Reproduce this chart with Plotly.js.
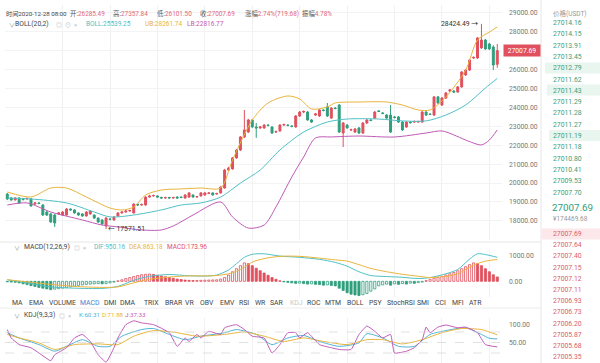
<!DOCTYPE html>
<html><head><meta charset="utf-8">
<script src="https://cdn.plot.ly/plotly-3.0.1.min.js"></script>
<style>html,body{margin:0;padding:0;background:#fff;}#chart{width:600px;height:363px;}</style>
</head><body><div id="chart"></div>
<script>
// ---------- DATA (4h candles, BTC/USDT) ----------
const openP = [19420,19210,19110,19210,19160,19160,19160,18890,18950,18840,
18470,18370,18310,18370,18310,18310,18630,18580,18420,18370,
18260,18370,18310,18150,18050,17730,18100,18050,18260,18420,
18470,18520,18420,18890,18840,18840,19260,19320,19320,19240,
19210,19240,19210,19260,19260,19210,19260,19370,19260,19320,
19370,19450,19480,19420,19480,19740,20690,20750,21330,21750,
22440,22700,23340,22970,22920,22920,23070,22970,22700,22760,
23070,23070,23020,22970,23550,23760,23760,23340,23600,23550,
23870,24030,23440,23970,24130,22650,23070,22810,22700,22920,
22650,23180,23340,23440,23820,23710,23600,23600,23500,23500,
23230,22970,23230,23230,23230,23230,23760,23650,23600,24560,
24130,24500,24870,24870,24820,25090,25720,25980,26620,26620,
27150,27570,27360,27200,26285.49];
const highP = [19480,19260,19250,19240,19200,19230,19200,19000,18990,18880,
18520,18400,18360,18470,18520,18680,18660,18610,18450,18400,
18520,18560,18340,18180,18080,18200,18140,18250,18460,18510,
18560,18590,18930,18920,18910,19300,19380,19390,19350,19280,
19270,19270,19270,19300,19290,19410,19520,19400,19320,19520,
19520,19510,19510,19490,19830,20750,20860,21380,21800,22490,
23870,23400,23380,23180,23020,23120,23110,23000,22780,23120,
23150,23110,23060,23600,23810,23840,23810,23390,23710,23920,
23900,24240,24020,24010,24180,23230,23120,22880,22910,22960,
23230,23390,23380,23810,23860,23760,23650,24130,23550,23550,
23280,23280,23280,23310,23300,23810,23810,23700,24610,24610,
24560,24820,24980,24930,25140,25930,26040,26570,26700,27730,
28424.49,27630,27420,27300,27357.84];
const lowP = [19100,19060,19080,18910,19080,19120,18750,18850,18880,18270,
18260,17900,17680,18320,18270,18280,18540,18380,18270,18220,
18230,18330,18110,17900,17780,17571.51,18030,18010,18220,18390,
18440,18490,18390,18800,18810,18810,19230,19290,19220,19180,
19170,19180,19180,19180,19200,19180,19230,19230,19230,19290,
19340,19420,19340,19390,19450,19710,20650,20710,21290,21700,
22390,22650,22920,22390,22860,22870,23000,22600,22650,22720,
23020,23000,22950,22930,23500,23700,23300,23180,23550,23500,
23800,23500,23400,23900,22650,21910,22870,22760,22650,22600,
22600,23130,23280,23400,23760,23650,23400,22650,23420,23180,
22760,22920,23150,23180,23190,23190,23550,23600,23550,24190,
24080,24450,24820,24770,24770,25040,25670,25930,26570,26570,
27100,27050,27040,25980,26101.50];
const closeP = [19160,19110,19210,18950,19130,19190,18790,18950,18920,18310,
18310,17940,17890,18420,18470,18630,18580,18420,18310,18260,
18470,18520,18150,17940,17840,18150,18080,18210,18420,18470,
18520,18550,18890,18840,18870,19260,19320,19340,19260,19210,
19240,19210,19240,19210,19240,19370,19480,19260,19290,19480,
19480,19480,19370,19450,19790,20690,20800,21330,21750,22440,
22810,23340,22970,22920,22970,23070,23050,22650,22730,23070,
23100,23050,23000,23550,23760,23790,23340,23230,23660,23870,
23840,23550,23970,23950,22700,23180,22920,22830,22860,22650,
23180,23340,23310,23760,23790,23680,23440,22700,23470,23230,
22810,23230,23200,23260,23260,23760,23600,23630,24560,24240,
24500,24770,24930,24820,25090,25880,25980,26510,26650,27680,
27570,27100,27100,26250,27007.69];

// BOLL(20,2) (candle number -> value)
const bollMidX = [1,7,16,23,27,33,40,45,50,55,60,65,70,76,82,87,95,101,107,112,117,122,125];
const bollMid  = [19210,19160,18950,18470,18210,18310,18580,18840,18950,19260,20000,20690,21750,22700,23230,23390,23390,23290,23290,23600,24130,25030,25539.25];
const bollUpX  = [1,7,12,16,21,27,30,33,36,40,45,50,55,58,63,67,72,75,78,82,84,90,97,101,105,108,112,117,120,123,125];
const bollUp   = [19530,19265,19740,19740,19265,18680,18577,18735,19370,19635,19690,19740,19740,21220,23340,24240,24610,24450,23920,24030,24240,24290,24290,24130,23870,23870,24560,25980,27570,27990,28261.74];
const bollLoX  = [1,6,12,20,25,29,35,40,43,48,55,58,62,66,69,73,76,79,83,90,99,107,111,114,117,121,123,125];
const bollLo   = [18840,18950,18470,18050,17780,17680,17520,17520,17730,18310,19000,18210,17620,17780,18740,20320,21380,22390,22440,22490,22440,22650,22760,22550,22280,22020,22280,22816.77];

// MACD(12,26,9)
const macdHist = [-20,-30,-40,-60,
-100,-130,-170,-200,-240,-270,-300,-330,
-310,-290,-270,-250,-220,-190,-160,-140,
-120,-110,-100,-90,-100,-90,-60,-30,
20,60,110,150,190,230,260,280,290,
270,240,210,180,150,120,90,70,50,40,
30,35,40,45,50,55,60,
90,150,250,380,500,620,730,
700,620,520,420,330,240,150,80,20,
-20,-40,-60,-80,-70,-90,-110,-100,-120,-130,-150,-140,-160,
-180,-270,-360,-450,-510,-540,-560,-530,-480,-390,-300,-180,
-140,-110,-150,-100,-120,-90,-110,-70,-80,-50,-30,
30,80,120,160,200,250,300,350,420,500,580,660,730,
700,620,500,380,260,173.96];
const difX = [1,6,12,18,25,29,33,37,42,47,51,54,57,59,61,63,66,70,75,80,84,87,90,93,97,101,105,108,112,115,118,120,122,125];
const dif  = [60,-60,-220,-270,-280,-200,40,200,270,220,210,250,450,700,950,1070,1090,1000,950,870,750,600,380,230,190,160,110,150,300,470,880,1090,1060,950.16];
const deaX = [1,6,12,18,25,29,33,37,42,47,51,54,57,59,61,63,66,70,75,80,84,87,90,93,97,101,105,108,112,115,118,120,122,125];
const dea  = [65,-20,-120,-200,-240,-220,-60,80,170,215,215,230,300,400,560,760,900,990,990,920,850,800,660,510,380,280,200,150,200,300,560,700,800,863.18];

// KDJ(9,3,3)
const kX = [1,4,9,13,16,20,24,27,30,35,38,42,46,50,56,59,64,68,72,76,80,85,90,92,96,100,104,108,112,117,121,123,125];
const kV = [78,63,44,25,39,58,39,39,68,87,90,73,58,68,78,87,73,44,63,70,53,39,49,75,63,39,39,73,84,92,73,62,60.31];
const dX = [1,4,9,13,18,24,29,33,38,44,49,56,61,66,71,76,81,87,92,96,101,106,111,116,121,123,125];
const dV = [73,63,49,30,44,46,44,68,84,78,68,73,80,68,53,63,53,44,58,58,46,58,78,90,87,80,71.88];
const jX = [1,2,4,7,9,12,13,16,18,20,22,24,26,28,29,31,33,35,38,42,44,46,47,49,50,52,55,56,59,61,63,66,68,70,72,74,75,77,80,83,85,88,90,92,94,96,98,99,102,104,106,107,108,110,112,115,117,120,122,125];
const jV = [87,63,44,35,20,-2,15,35,63,73,53,15,-6,35,63,101,112,106,101,78,39,63,53,73,63,82,73,92,101,87,68,63,20,44,78,78,63,78,44,35,30,30,73,97,82,63,73,20,25,35,58,94,78,94,100,92,94,78,44,37.33];

// Axis ticks
const priceTicks = [18000,19000,20000,21000,22000,23000,24000,25000,26000,27000,28000,29000];
const macdTicks = [0,1000];
const kdjTicks = [0,50,100];
const kdjLevels = [20,50,80];

// Header / legends
const headerTime = '时间2020-12-28 08:00';
const headerItems = [['开:','26285.49'],['高:','27357.84'],['低:','26101.50'],['收:','27007.69'],['涨幅','2.74%(719.68)'],['振幅','4.78%']];
const lastPrice = 27007.69;
const highMark = {k:121, v:28424.49};
const lowMark = {k:26, v:17571.51};
const bollLegend = ['BOLL(20,2)','BOLL:25539.25','UB:28261.74','LB:22816.77'];
const macdLegend = ['MACD(12,26,9)','DIF:950.16','DEA:863.18','MACD:173.96'];
const kdjLegend = ['KDJ(9,3,3)','K:60.31','D:71.88','J:37.33'];
const tabs = ['MA','EMA','VOLUME','MACD','DMI','DMA','TRIX','BRAR','VR','OBV','EMV','RSI','WR','SAR','KDJ','ROC','MTM','BOLL','PSY','StochRSI','SMI','CCI','MFI','ATR'];

// Order book
const bookHeader = '价格(USDT)';
const bookUpper = ['27014.16','27014.15','27013.91','27013.45','27012.79','27011.62','27011.43','27011.29','27011.28','27011.27','27011.19','27011.18','27010.80','27010.41','27009.53','27007.70'];
const bookLower = ['27007.69','27007.64','27007.40','27007.15','27007.12','27007.11','27006.93','27006.73','27006.20','27005.87','27005.68','27005.35'];
const bookLast = '27007.69';
const bookCny = '¥174469.68';

// ---------- STYLE / LAYOUT ----------
const W=600,H=363;
const px=x=>x/W, py=y=>1-y/H;
const FONT='Roboto, "Noto Sans CJK SC", "DejaVu Sans", sans-serif';
const RED='#e0505e', GREEN='#2f9e7c';
const C_MID='#4fc0c6', C_UP='#e9b43c', C_LO='#c05ab6';
const C_K='#4fb3d6', C_D='#e9b43c', C_J='#c05ab6';
const idx = openP.map((_,i)=>i+1);
const tabX = [10,27,47,78,102,118,142,163,183,198,218,237,253,268,288,305,323,345,367,385,415,433,450,467];
const headX = [68,111,155,198,243,300];

const traces = [
 {type:'candlestick', x:idx, open:openP, high:highP, low:lowP, close:closeP, xaxis:'x', yaxis:'y',
  increasing:{line:{color:RED,width:1}, fillcolor:RED}, decreasing:{line:{color:GREEN,width:1}, fillcolor:GREEN},
  whiskerwidth:0, hoverinfo:'skip'},
 {type:'scatter', mode:'lines', x:bollUpX, y:bollUp, line:{color:C_UP,width:1,shape:'spline',smoothing:0.8}, xaxis:'x', yaxis:'y'},
 {type:'scatter', mode:'lines', x:bollMidX, y:bollMid, line:{color:C_MID,width:1,shape:'spline',smoothing:0.8}, xaxis:'x', yaxis:'y'},
 {type:'scatter', mode:'lines', x:bollLoX, y:bollLo, line:{color:C_LO,width:1,shape:'spline',smoothing:0.8}, xaxis:'x', yaxis:'y'},
];
// MACD histogram: hollow when positive bar grows or negative bar shrinks
const hFill=[], hLine=[];
macdHist.forEach((v,i)=>{
  const prev = i>0 ? macdHist[i-1] : v;
  const col = v>=0 ? RED : GREEN;
  const hollow = v>prev;
  hLine.push(col); hFill.push(hollow ? 'rgba(255,255,255,1)' : col);
});
traces.push({type:'bar', x:idx, y:macdHist, width:0.55, marker:{color:hFill, line:{color:hLine,width:0.8}}, xaxis:'x2', yaxis:'y2'});
traces.push({type:'scatter', mode:'lines', x:difX, y:dif, line:{color:C_MID,width:1,shape:'spline',smoothing:0.8}, xaxis:'x2', yaxis:'y2'});
traces.push({type:'scatter', mode:'lines', x:deaX, y:dea, line:{color:C_UP,width:1,shape:'spline',smoothing:0.8}, xaxis:'x2', yaxis:'y2'});
traces.push({type:'scatter', mode:'lines', x:kX, y:kV, line:{color:C_K,width:1,shape:'spline',smoothing:0.6}, xaxis:'x3', yaxis:'y3'});
traces.push({type:'scatter', mode:'lines', x:dX, y:dV, line:{color:C_D,width:1,shape:'spline',smoothing:0.6}, xaxis:'x3', yaxis:'y3'});
traces.push({type:'scatter', mode:'lines', x:jX, y:jV, line:{color:C_J,width:1,shape:'spline',smoothing:0.4}, xaxis:'x3', yaxis:'y3'});

const xDom=[px(5),px(502)], xRange=[0.42,126.2];
const gridX=[15,27,39,51,63,75,87,99,111,123];
const xBase={domain:xDom, range:xRange, showticklabels:false, ticks:'', tickvals:gridX, showgrid:true, gridcolor:'#f1f1f1', gridwidth:1, zeroline:false, showline:false, rangeslider:{visible:false}, fixedrange:true};
const yBase={side:'right', showline:false, zeroline:false, ticks:'', tickformat:'.2f', tickfont:{family:FONT,size:6.8,color:'#777'}, ticklabelstandoff:6, fixedrange:true};

function txt(x,y,text,color,size,extra){
  return Object.assign({xref:'paper',yref:'paper',x:px(x),y:py(y),text:text,showarrow:false,xanchor:'left',yanchor:'middle',
    font:{family:FONT,size:size||6.8,color:color||'#333'}},extra||{});
}
const ann=[];
// header
ann.push(txt(4,14,headerTime,'#444',6.2));
headerItems.forEach((it,i)=>ann.push(txt(headX[i],14,it[0]+'<span style="color:#e2677a">'+it[1]+'</span>','#555',6.4)));
// BOLL legend
ann.push(txt(7,24,'∨','#999',6));
ann.push(txt(13,24,bollLegend[0],'#444'));
ann.push(txt(54,24,'◎  ⊙  ×','#bbb',6));
ann.push(txt(84,24,bollLegend[1],C_MID,6.5));
ann.push(txt(143,24,bollLegend[2],C_UP,6.5));
ann.push(txt(185,24,bollLegend[3],C_LO,6.5));
// MACD legend
ann.push(txt(12,247,'∨','#999',6));
ann.push(txt(22,247,macdLegend[0],'#444'));
ann.push(txt(72,247,'◎  ×','#bbb',6));
ann.push(txt(92,247,macdLegend[1],C_MID,6.5));
ann.push(txt(127,247,macdLegend[2],C_UP,6.5));
ann.push(txt(165,247,macdLegend[3],RED,6.5));
// tabs
tabs.forEach((t,i)=>ann.push(txt(tabX[i],303,t, t==='MACD'?'#4a7fd0':(t==='KDJ'?'#c8c8c8':'#444'),6.9)));
// KDJ legend
ann.push(txt(12,315,'∨','#999',6));
ann.push(txt(22,315,kdjLegend[0],'#444'));
ann.push(txt(57,315,'◎  ×','#bbb',6));
ann.push(txt(77,315,kdjLegend[1],C_K,6.2));
ann.push(txt(100,315,kdjLegend[2],C_D,6.2));
ann.push(txt(123,315,kdjLegend[3],C_J,6.2));
// high / low marks
ann.push({xref:'x',yref:'y',x:highMark.k,y:highMark.v,text:highMark.v.toFixed(2)+' →',showarrow:false,xanchor:'right',yanchor:'middle',xshift:-1,font:{family:FONT,size:6.8,color:'#333'}});
ann.push({xref:'x',yref:'y',x:lowMark.k,y:lowMark.v,text:'← '+lowMark.v.toFixed(2),showarrow:false,xanchor:'left',yanchor:'middle',xshift:0,font:{family:FONT,size:6.8,color:'#333'}});
// last price box
ann.push({xref:'paper',yref:'y',x:px(521.5),y:lastPrice,text:lastPrice.toFixed(2),showarrow:false,xanchor:'center',yanchor:'middle',
  bgcolor:RED,borderpad:1.5,width:33,font:{family:FONT,size:6.8,color:'#fff'}});
// order book
ann.push(txt(551,13,bookHeader,'#999',6.5));
bookUpper.forEach((p,i)=>ann.push(txt(551,23+i*11.3,p,'#3a9e7e',6.8)));
ann.push(txt(550,207,bookLast,'#2f9e7c',9.8));
ann.push(txt(551,219,bookCny,'#999',6.5));
bookLower.forEach((p,i)=>ann.push(txt(551,234+i*11.2,p,'#d9606e',6.8)));

const shapes=[
 {type:'line',xref:'paper',yref:'paper',x0:0,x1:px(541),y0:py(242),y1:py(242),line:{color:'#e6e6e6',width:1}},
 {type:'line',xref:'paper',yref:'paper',x0:0,x1:px(541),y0:py(308),y1:py(308),line:{color:'#ececec',width:1}},
 {type:'line',xref:'paper',yref:'paper',x0:px(541),x1:px(541),y0:0,y1:1,line:{color:'#e6e6e6',width:1}},
 {type:'rect',xref:'paper',yref:'paper',x0:px(545),x1:1,y0:py(73.5),y1:py(62.5),fillcolor:'#e9f6f0',line:{width:0},layer:'below'},
 {type:'rect',xref:'paper',yref:'paper',x0:px(547),x1:1,y0:py(95.5),y1:py(84.5),fillcolor:'#e9f6f0',line:{width:0},layer:'below'},
 {type:'rect',xref:'paper',yref:'paper',x0:px(549),x1:1,y0:py(141),y1:py(130),fillcolor:'#e9f6f0',line:{width:0},layer:'below'},
 {type:'rect',xref:'paper',yref:'paper',x0:px(542),x1:1,y0:py(239.5),y1:py(228.5),fillcolor:'#fce8ea',line:{width:0},layer:'below'},
];
kdjLevels.forEach(v=>shapes.push({type:'line',xref:'paper',yref:'y3',x0:px(5),x1:px(502),y0:v,y1:v,line:{color:'#d9d9d9',width:0.8,dash:'dash'}}));

const layout={
 width:W,height:H,margin:{l:0,r:0,t:0,b:0},paper_bgcolor:'#fff',plot_bgcolor:'#fff',showlegend:false,
 font:{family:FONT},
 xaxis:Object.assign({},xBase,{anchor:'y'}),
 xaxis2:Object.assign({},xBase,{anchor:'y2',matches:'x'}),
 xaxis3:Object.assign({},xBase,{anchor:'y3',matches:'x'}),
 yaxis:Object.assign({},yBase,{domain:[py(240),py(5)],range:[16989,29423],tickvals:priceTicks,showgrid:true,gridcolor:'#f3f3f3',anchor:'x'}),
 yaxis2:Object.assign({},yBase,{domain:[py(296.5),py(249)],range:[-600,1280],tickvals:macdTicks,showgrid:false,anchor:'x2'}),
 yaxis3:Object.assign({},yBase,{domain:[0,py(318)],range:[-8.6,120],tickvals:kdjTicks,showgrid:false,anchor:'x3'}),
 annotations:ann, shapes:shapes, bargap:0.3
};
Plotly.newPlot('chart',traces,layout,{staticPlot:true,displayModeBar:false});
</script></body></html>
